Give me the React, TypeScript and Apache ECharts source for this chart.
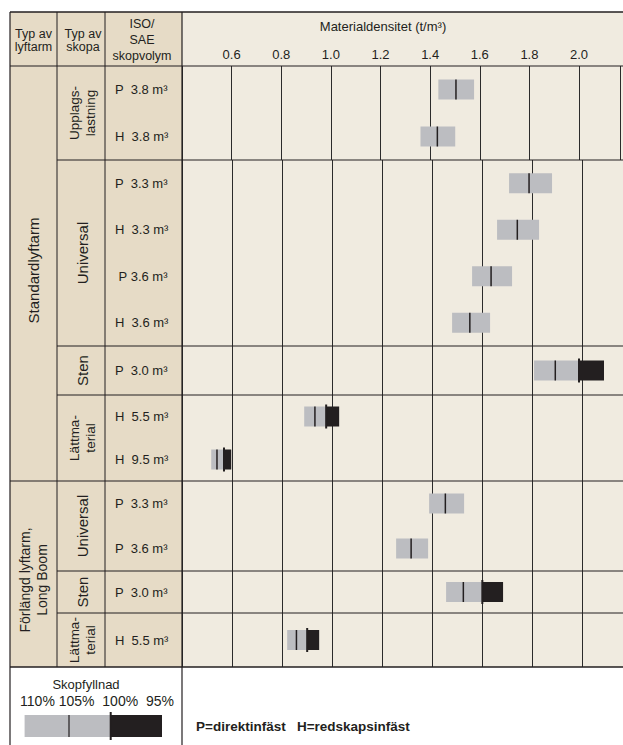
import React, { useEffect, useRef } from 'react';
import * as echarts from 'echarts';

// ---------- data ----------
const axisTitle = 'Materialdensitet (t/m³)';
const boomTypes = ['Standardlyftarm', 'Förlängd lyftarm,\nLong Boom'];
const boomBucketGroupCounts = [4, 3];
const bucketTypes = ['Upplags-\nlastning', 'Universal', 'Sten', 'Lättma-\nterial', 'Universal', 'Sten', 'Lättma-\nterial'];
const bucketRowCounts = [2, 4, 1, 2, 2, 1, 1];
const volumeLabels = [
  'P  3.8 m³', 'H  3.8 m³',
  'P  3.3 m³', 'H  3.3 m³', ' P 3.6 m³', 'H  3.6 m³',
  'P  3.0 m³',
  'H  5.5 m³', 'H  9.5 m³',
  'P  3.3 m³', 'P  3.6 m³',
  'P  3.0 m³',
  'H  5.5 m³',
];
// material density (t/m³) at each bucket fill factor
const density110 = [1.433, 1.361, 1.709, 1.661, 1.561, 1.481, 1.809, 0.889, 0.517, 1.389, 1.257, 1.457, 0.821];
const density105 = [1.504, 1.429, 1.789, 1.742, 1.637, 1.552, 1.894, 0.932, 0.540, 1.454, 1.317, 1.526, 0.858];
const density100 = [1.577, 1.501, 1.881, 1.829, 1.721, 1.633, 1.989, 0.977, 0.568, 1.529, 1.385, 1.602, 0.901];
const density95: (number | null)[] = [null, null, null, null, null, null, 2.089, 1.029, 0.597, null, null, 1.685, 0.949];
const legendTitle = 'Skopfyllnad';
const legendPercents = '110% 105%  100%  95%';
const footnote = 'P=direktinfäst   H=redskapsinfäst';

// ---------- layout ----------
const W = 623, H = 745;
const X0 = 10, XC1 = 57, XC2 = 105, XP = 182, XR = 623;
const YT = 12, YH = 66, YB = 667;
const groupHeights = [94, 186, 49, 86, 90, 42, 54];
const FONT = 'Liberation Sans, Arial, Helvetica, sans-serif';
const INK = '#231f20';
const LEFT_BG = '#e6dbc6';
const PLOT_BG = '#f0ebe0';
const GRAY = '#bcbdc1';

export default function App() {
  const ref = useRef<HTMLDivElement>(null);
  useEffect(() => {
    if (!ref.current) return;
    const chart = echarts.init(ref.current, undefined, { renderer: 'svg' });

    const tops: number[] = [];
    let acc = YH;
    groupHeights.forEach((h) => { tops.push(acc); acc += h; });

    const rowStart: number[] = [];
    let r = 0;
    bucketRowCounts.forEach((c) => { rowStart.push(r); r += c; });

    const grids = groupHeights.map((h, g) => ({ left: XP, right: W - XR, top: tops[g], height: h, containLabel: false }));
    const xAxes = groupHeights.map((_, g) => ({
      type: 'value', gridIndex: g, min: 0.4, max: 2.165, interval: 0.2, position: 'top',
      axisLine: { show: false }, axisTick: { show: false },
      axisLabel: {
        show: g === 0, margin: 5, fontSize: 13, color: INK, fontFamily: FONT,
        formatter: (v: number) => (v < 0.5 || v > 2.05 ? '' : v.toFixed(1)),
      },
      splitLine: { show: true, lineStyle: { color: '#2b2b2b', width: 1 } },
    }));
    const yAxes = groupHeights.map((_, g) => ({
      type: 'category', gridIndex: g, inverse: true,
      data: volumeLabels.slice(rowStart[g], rowStart[g] + bucketRowCounts[g]),
      axisLine: { show: false }, axisTick: { show: false }, splitLine: { show: false },
      axisLabel: { align: 'left', margin: XP - 115, fontSize: 13, color: INK, fontFamily: FONT },
    }));

    const barH = 20;
    const series = groupHeights.map((_, g) => ({
      type: 'custom', xAxisIndex: g, yAxisIndex: g, clip: false, z: 5,
      data: Array.from({ length: bucketRowCounts[g] }, (_, i) => {
        const k = rowStart[g] + i;
        return [i, density110[k], density105[k], density100[k], k];
      }),
      renderItem: (params: any, api: any) => {
        const cat = api.value(0);
        const pLo = api.coord([api.value(1), cat]);
        const pMid = api.coord([api.value(2), cat]);
        const pHi = api.coord([api.value(3), cat]);
        const y = pLo[1];
        const children: any[] = [
          { type: 'rect', shape: { x: pLo[0], y: y - barH / 2, width: pHi[0] - pLo[0], height: barH }, style: { fill: GRAY } },
          { type: 'line', shape: { x1: pMid[0], y1: y - barH / 2, x2: pMid[0], y2: y + barH / 2 }, style: { stroke: INK, lineWidth: 1.5 } },
        ];
        const b = density95[api.value(4)];
        if (b != null) {
          const pB = api.coord([b, cat]);
          children.push({ type: 'rect', shape: { x: pHi[0], y: y - barH / 2, width: pB[0] - pHi[0], height: barH }, style: { fill: INK } });
          children.push({ type: 'line', shape: { x1: pHi[0], y1: y - barH / 2 - 2, x2: pHi[0], y2: y + barH / 2 + 2 }, style: { stroke: INK, lineWidth: 2 } });
        }
        return { type: 'group', children };
      },
    }));

    const graphics: any[] = [];
    // backgrounds
    graphics.push({ type: 'rect', z: -10, shape: { x: X0, y: YT, width: XP - X0, height: YB - YT }, style: { fill: LEFT_BG } });
    graphics.push({ type: 'rect', z: -10, shape: { x: XP, y: YT, width: XR - XP, height: YB - YT }, style: { fill: PLOT_BG } });
    const line = (x1: number, y1: number, x2: number, y2: number, w = 1) =>
      graphics.push({ type: 'line', z: 50, shape: { x1, y1, x2, y2 }, style: { stroke: INK, lineWidth: w } });
    // outer and header lines
    line(X0, YT, XR, YT, 1.5);
    line(X0, YB, XR, YB, 1.5);
    line(X0, YH, XR, YH, 1.2);
    line(X0, YT, X0, H, 1.2);
    line(XC1, YT, XC1, YB);
    line(XC2, YT, XC2, YB);
    line(XP, YT, XP, H, 1.2);
    // group separators
    let gi = 0;
    boomBucketGroupCounts.forEach((cnt, b) => {
      for (let j = 0; j < cnt; j++) {
        const g = gi + j;
        if (g > 0) line(j === 0 ? X0 : XC1, tops[g], XR, tops[g], j === 0 ? 1.2 : 1);
      }
      const yS = tops[gi];
      const yE = tops[gi + cnt - 1] + groupHeights[gi + cnt - 1];
      graphics.push({
        type: 'text', z: 60, x: (X0 + XC1) / 2, y: (yS + yE) / 2 + (b === 1 ? 6 : -3), rotation: Math.PI / 2,
        style: { text: boomTypes[b], align: 'center', verticalAlign: 'middle', fontSize: b === 0 ? 15 : 14, lineHeight: 17, fill: INK, fontFamily: FONT },
      });
      gi += cnt;
    });
    bucketTypes.forEach((t, g) => {
      const twoLine = t.includes('\n');
      graphics.push({
        type: 'text', z: 60, x: (XC1 + XC2) / 2 + 1, y: tops[g] + groupHeights[g] / 2, rotation: Math.PI / 2,
        style: { text: t, align: 'center', verticalAlign: 'middle', fontSize: twoLine ? 13.5 : 15, lineHeight: 16, fill: INK, fontFamily: FONT },
      });
    });
    // header texts
    const hdr = (text: string, x: number, y: number, lh: number) =>
      graphics.push({ type: 'text', z: 60, x, y, style: { text, align: 'center', verticalAlign: 'middle', fontSize: 12.5, lineHeight: lh, fill: INK, fontFamily: FONT } });
    hdr('Typ av\nlyftarm', (X0 + XC1) / 2, 40, 13);
    hdr('Typ av\nskopa', (XC1 + XC2) / 2 + 2, 40, 13);
    hdr('ISO/\nSAE\nskopvolym', 142, 40, 16);
    graphics.push({ type: 'text', z: 60, x: 383, y: 26, style: { text: axisTitle, align: 'center', verticalAlign: 'middle', fontSize: 13, fill: INK, fontFamily: FONT } });
    // legend
    const lgX = [24.6, 69, 110.7, 162];
    graphics.push({ type: 'text', z: 60, x: 86, y: 684, style: { text: legendTitle, align: 'center', verticalAlign: 'middle', fontSize: 13, fill: INK, fontFamily: FONT } });
    graphics.push({ type: 'text', z: 60, x: 97, y: 701, style: { text: legendPercents, align: 'center', verticalAlign: 'middle', fontSize: 14, fill: INK, fontFamily: FONT } });
    graphics.push({ type: 'rect', z: 60, shape: { x: lgX[0], y: 715, width: lgX[2] - lgX[0], height: 22 }, style: { fill: GRAY } });
    graphics.push({ type: 'rect', z: 60, shape: { x: lgX[2], y: 715, width: lgX[3] - lgX[2], height: 22 }, style: { fill: INK } });
    graphics.push({ type: 'line', z: 61, shape: { x1: lgX[1], y1: 715, x2: lgX[1], y2: 737 }, style: { stroke: INK, lineWidth: 1.2 } });
    graphics.push({ type: 'line', z: 61, shape: { x1: lgX[2], y1: 712, x2: lgX[2], y2: 740 }, style: { stroke: INK, lineWidth: 2 } });
    graphics.push({ type: 'text', z: 60, x: 196, y: 726, style: { text: footnote, align: 'left', verticalAlign: 'middle', fontSize: 13.5, fontWeight: 'bold', fill: INK, fontFamily: FONT } });

    chart.setOption({
      animation: false,
      backgroundColor: '#ffffff',
      grid: grids,
      xAxis: xAxes,
      yAxis: yAxes,
      series,
      graphic: { elements: graphics },
    });
    return () => chart.dispose();
  }, []);
  return <div ref={ref} style={{ position: 'absolute', left: 0, top: 0, width: W, height: H }} />;
}
